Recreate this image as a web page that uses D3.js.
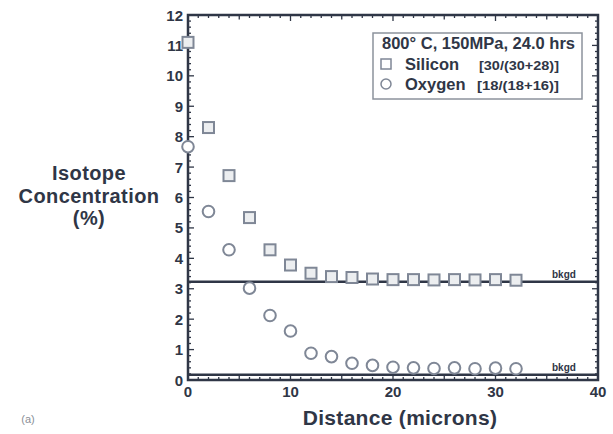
<!DOCTYPE html>
<html>
<head>
<meta charset="utf-8">
<script src="https://cdn.jsdelivr.net/npm/d3@7.9.0/dist/d3.min.js"></script>
<style>
  body { margin: 0; background: #fff; }
  svg { display: block; font-family: 'Liberation Sans', Arial, sans-serif; }
  .bold { font-weight: bold; fill: #2f3646; }
</style>
</head>
<body>
<svg id="chart" width="613" height="434"></svg>
<script>
// distance from the surface (microns)
const distance = [0, 2, 4, 6, 8, 10, 12, 14, 16, 18, 20, 22, 24, 26, 28, 30, 32];
// 30Si / (30Si + 28Si), %
const silicon = [11.1, 8.3, 6.72, 5.34, 4.28, 3.78, 3.51, 3.40, 3.37, 3.32, 3.30, 3.30, 3.29, 3.30, 3.29, 3.30, 3.28];
// 18O / (18O + 16O), %
const oxygen = [7.67, 5.54, 4.28, 3.02, 2.12, 1.61, 0.88, 0.77, 0.55, 0.48, 0.42, 0.40, 0.38, 0.40, 0.37, 0.39, 0.37];
// natural background levels
const bkgdLevels = [3.23, 0.17];
const bkgdLabel = 'bkgd';

const xTicks = [0, 10, 20, 30, 40];
const yTicks = [0, 1, 2, 3, 4, 5, 6, 7, 8, 9, 10, 11, 12];
const legendTitle = '800\u00B0 C, 150MPa, 24.0 hrs';
const seriesNames = ['Silicon', 'Oxygen'];
const seriesRatios = ['[30/(30+28)]', '[18/(18+16)]'];

const ink = '#2f3646';
const markerColor = '#7f8796';

const svg = d3.select('#chart');
const x = d3.scaleLinear().domain([0, 40]).range([188, 598]);
const y = d3.scaleLinear().domain([0, 12]).range([380, 15]);

// minor ticks
const yMinor = d3.range(0, 12.01, 0.2);
const xMinor = d3.range(0, 40.01, 1);

const ticks = svg.append('g').attr('stroke', ink).attr('stroke-width', 1.3);
yMinor.forEach((v) => {
  const major = Math.abs(v - Math.round(v)) < 1e-6;
  const len = major ? 6 : 3;
  ticks.append('line').attr('x1', x(0)).attr('x2', x(0) + len).attr('y1', y(v)).attr('y2', y(v));
  ticks.append('line').attr('x1', x(40)).attr('x2', x(40) - len).attr('y1', y(v)).attr('y2', y(v));
});
xMinor.forEach((v) => {
  const len = v % 10 === 0 ? 6 : (v % 5 === 0 ? 4.5 : 3);
  ticks.append('line').attr('x1', x(v)).attr('x2', x(v)).attr('y1', y(0)).attr('y2', y(0) - len);
  ticks.append('line').attr('x1', x(v)).attr('x2', x(v)).attr('y1', y(12)).attr('y2', y(12) + len);
});

// frame
svg.append('rect')
  .attr('x', x(0)).attr('y', y(12))
  .attr('width', x(40) - x(0)).attr('height', y(0) - y(12))
  .attr('fill', 'none').attr('stroke', ink).attr('stroke-width', 2.5);

// tick labels
svg.append('g').selectAll('text').data(yTicks).join('text')
  .attr('class', 'bold')
  .attr('x', x(0) - 5).attr('y', (d) => y(d) + 5.5)
  .attr('text-anchor', 'end').attr('font-size', 15)
  .text((d) => d);

svg.append('g').selectAll('text').data(xTicks).join('text')
  .attr('class', 'bold')
  .attr('x', (d) => x(d)).attr('y', 397)
  .attr('text-anchor', 'middle').attr('font-size', 15)
  .text((d) => d);

// background lines
bkgdLevels.forEach((b) => {
  svg.append('line')
    .attr('x1', x(0)).attr('x2', x(40)).attr('y1', y(b)).attr('y2', y(b))
    .attr('stroke', ink).attr('stroke-width', 2.5);
  svg.append('text')
    .attr('class', 'bold')
    .attr('x', 552).attr('y', y(b) - 4)
    .attr('font-size', 10)
    .text(bkgdLabel);
});

// silicon squares
const sq = 11;
svg.append('g').selectAll('rect').data(distance).join('rect')
  .attr('x', (d) => x(d) - sq / 2)
  .attr('y', (d, i) => y(silicon[i]) - sq / 2)
  .attr('width', sq).attr('height', sq)
  .attr('fill', '#eceef0').attr('stroke', markerColor).attr('stroke-width', 2);

// oxygen circles
svg.append('g').selectAll('circle').data(distance).join('circle')
  .attr('cx', (d) => x(d))
  .attr('cy', (d, i) => y(oxygen[i]))
  .attr('r', 5.8)
  .attr('fill', '#fff').attr('stroke', markerColor).attr('stroke-width', 2);

// legend
const lg = svg.append('g');
lg.append('rect')
  .attr('x', 373).attr('y', 33).attr('width', 209).attr('height', 66)
  .attr('fill', '#fff').attr('stroke', '#8c929c').attr('stroke-width', 1.5);
lg.append('text').attr('class', 'bold')
  .attr('x', 382).attr('y', 49).attr('font-size', 17)
  .attr('textLength', 193).attr('lengthAdjust', 'spacingAndGlyphs')
  .text(legendTitle);
const ratioX = [479, 477];
seriesNames.forEach((name, i) => {
  const cy = 64 + i * 20;
  if (i === 0) {
    lg.append('rect').attr('x', 381).attr('y', cy - 5).attr('width', 10).attr('height', 10)
      .attr('fill', '#fff').attr('stroke', markerColor).attr('stroke-width', 1.5);
  } else {
    lg.append('circle').attr('cx', 386).attr('cy', cy).attr('r', 5)
      .attr('fill', '#fff').attr('stroke', markerColor).attr('stroke-width', 1.5);
  }
  lg.append('text').attr('class', 'bold')
    .attr('x', 405).attr('y', cy + 6).attr('font-size', 16.5)
    .text(name);
  lg.append('text').attr('class', 'bold')
    .attr('x', ratioX[i]).attr('y', cy + 5.5).attr('font-size', 13)
    .attr('textLength', 559 - ratioX[i]).attr('lengthAdjust', 'spacingAndGlyphs')
    .text(seriesRatios[i]);
});

// axis titles
const yLabel = ['Isotope', 'Concentration', '(%)'];
svg.append('g').selectAll('text').data(yLabel).join('text')
  .attr('class', 'bold')
  .attr('x', 89).attr('y', (d, i) => 180 + i * 22.5)
  .attr('text-anchor', 'middle').attr('font-size', 20)
  .attr('letter-spacing', 0.4)
  .text((d) => d);

svg.append('text').attr('class', 'bold')
  .attr('x', 400).attr('y', 425)
  .attr('text-anchor', 'middle').attr('font-size', 21)
  .attr('letter-spacing', 0.3)
  .text('Distance (microns)');

svg.append('text')
  .attr('x', 28).attr('y', 423)
  .attr('text-anchor', 'middle').attr('font-size', 11)
  .attr('fill', '#8a8f98')
  .text('(a)');
</script>
</body>
</html>
